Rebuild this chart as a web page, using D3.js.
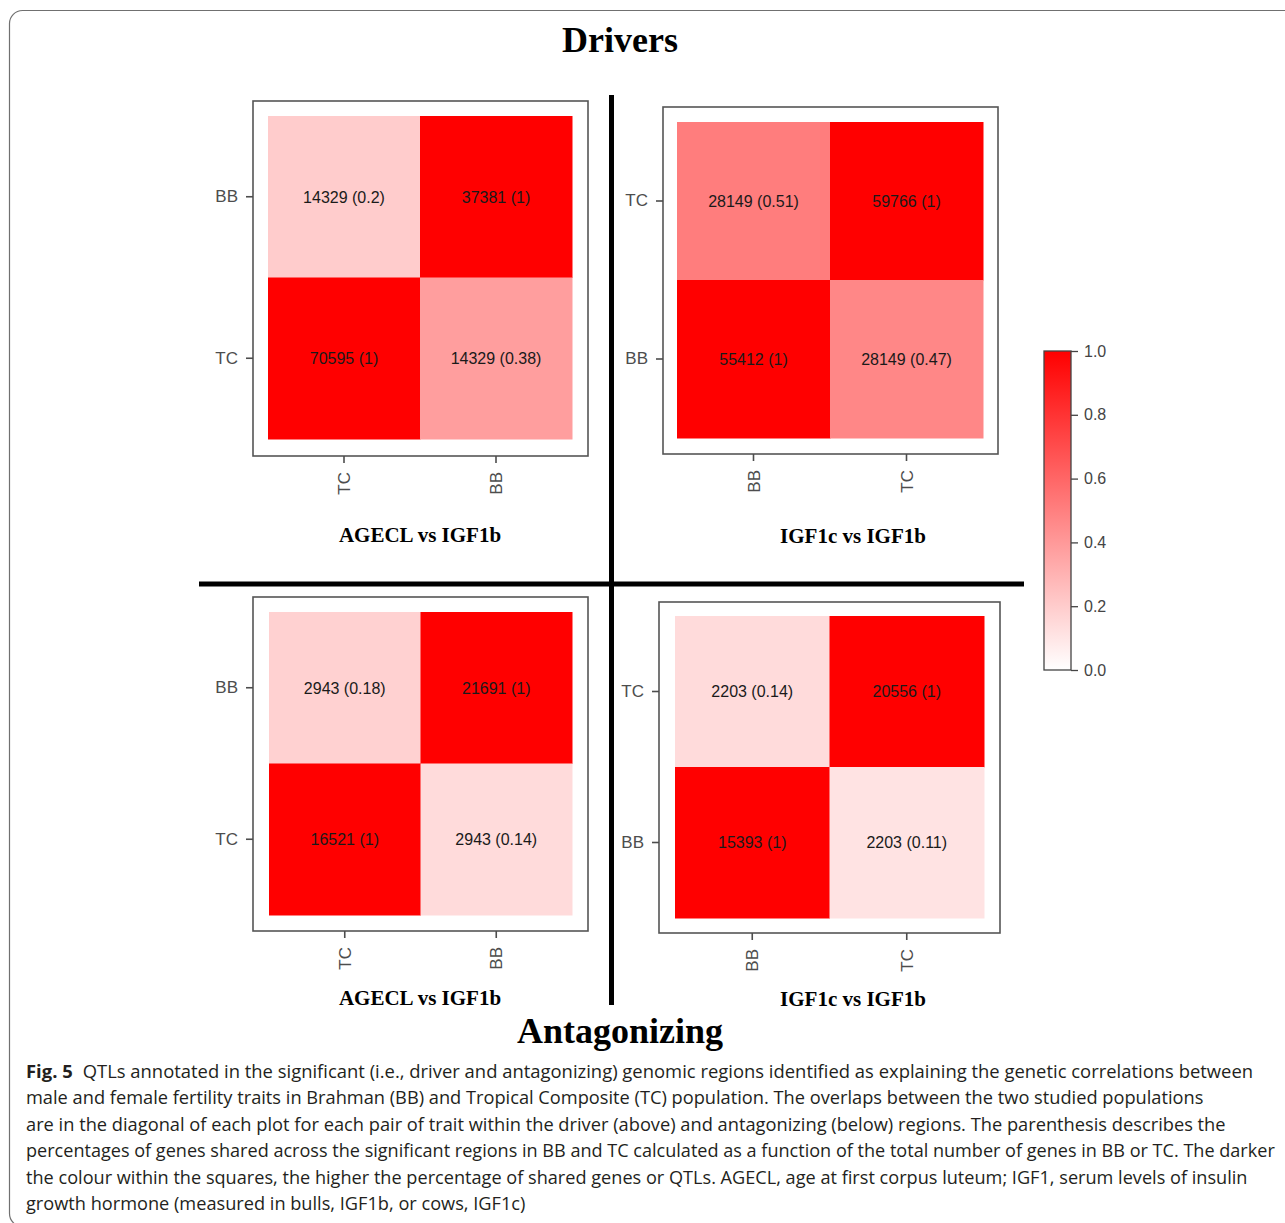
<!DOCTYPE html>
<html>
<head>
<meta charset="utf-8">
<script src="https://cdn.jsdelivr.net/npm/d3@7"></script>
<style>
  html, body { margin: 0; padding: 0; background: #fff; }
  svg { display: block; }
</style>
</head>
<body>
<svg id="fig" width="1285" height="1223"></svg>
<script>
// ---- data ----
const sectionTitles = ["Drivers", "Antagonizing"];
const panelTitles = ["AGECL vs IGF1b", "IGF1c vs IGF1b", "AGECL vs IGF1b", "IGF1c vs IGF1b"];
// column categories (left to right) and row categories (top to bottom)
const xCategories = [["TC", "BB"], ["BB", "TC"], ["TC", "BB"], ["BB", "TC"]];
const yCategories = [["BB", "TC"], ["TC", "BB"], ["BB", "TC"], ["TC", "BB"]];
// counts of shared QTLs, row-major (top row first)
const counts = [
  [[14329, 37381], [70595, 14329]],
  [[28149, 59766], [55412, 28149]],
  [[2943, 21691], [16521, 2943]],
  [[2203, 20556], [15393, 2203]]
];
// proportion shared
const shares = [
  [[0.2, 1], [1, 0.38]],
  [[0.51, 1], [1, 0.47]],
  [[0.18, 1], [1, 0.14]],
  [[0.14, 1], [1, 0.11]]
];
const legendTicks = [0, 0.2, 0.4, 0.6, 0.8, 1.0];
const captionLines = [
  "QTLs annotated in the significant (i.e., driver and antagonizing) genomic regions identified as explaining the genetic correlations between",
  "male and female fertility traits in Brahman (BB) and Tropical Composite (TC) population. The overlaps between the two studied populations",
  "are in the diagonal of each plot for each pair of trait within the driver (above) and antagonizing (below) regions. The parenthesis describes the",
  "percentages of genes shared across the significant regions in BB and TC calculated as a function of the total number of genes in BB or TC. The darker",
  "the colour within the squares, the higher the percentage of shared genes or QTLs. AGECL, age at first corpus luteum; IGF1, serum levels of insulin",
  "growth hormone (measured in bulls, IGF1b, or cows, IGF1c)"
];

// ---- layout ----
const panelLayout = [
  { frame: [253, 101, 588, 456], cells: [268, 116, 572, 439], titleX: 420, titleY: 542 },
  { frame: [663, 107, 998, 454], cells: [677, 122, 983, 438], titleX: 853, titleY: 543 },
  { frame: [253, 597, 588, 931], cells: [269, 612, 572, 915], titleX: 420, titleY: 1005 },
  { frame: [659, 602, 1000, 933], cells: [675, 616, 984, 918], titleX: 853, titleY: 1006 }
];
const captionEnds = [1254, 1204, 1226, 1276, 1248, 526];

const svg = d3.select("#fig");
const color = d3.scaleLinear().domain([0, 1]).range(["#ffffff", "#ff0000"]);

// outer rounded figure border
svg.append("rect")
  .attr("x", 9.5).attr("y", 10.5).attr("width", 1320).attr("height", 1216)
  .attr("rx", 13).attr("ry", 13)
  .attr("fill", "none").attr("stroke", "#707070").attr("stroke-width", 1.2);

// section titles
const serif = "'Liberation Serif', 'Times New Roman', serif";
svg.append("text").attr("x", 620).attr("y", 52)
  .attr("text-anchor", "middle").attr("font-family", serif)
  .attr("font-weight", "bold").attr("font-size", 36).attr("fill", "#000")
  .text(sectionTitles[0]);
svg.append("text").attr("x", 620).attr("y", 1043)
  .attr("text-anchor", "middle").attr("font-family", serif)
  .attr("font-weight", "bold").attr("font-size", 36).attr("fill", "#000")
  .text(sectionTitles[1]);

// quadrant separators
svg.append("line").attr("x1", 611.5).attr("x2", 611.5).attr("y1", 95).attr("y2", 1005)
  .attr("stroke", "#000").attr("stroke-width", 5);
svg.append("line").attr("x1", 199).attr("x2", 1024).attr("y1", 584).attr("y2", 584)
  .attr("stroke", "#000").attr("stroke-width", 5);

const sans = "'Liberation Sans', Arial, sans-serif";

panelLayout.forEach((L, p) => {
  const [fx0, fy0, fx1, fy1] = L.frame;
  const [cx0, cy0, cx1, cy1] = L.cells;
  const x = d3.scaleBand().domain(xCategories[p]).range([cx0, cx1]);
  const y = d3.scaleBand().domain(yCategories[p]).range([cy0, cy1]);
  const g = svg.append("g");

  const cells = [];
  yCategories[p].forEach((rc, i) => xCategories[p].forEach((cc, j) => {
    cells.push({ row: rc, col: cc, n: counts[p][i][j], v: shares[p][i][j] });
  }));

  g.selectAll("rect.cell").data(cells).join("rect")
    .attr("class", "cell")
    .attr("x", d => x(d.col)).attr("y", d => y(d.row))
    .attr("width", x.bandwidth() + 0.5).attr("height", y.bandwidth() + 0.5)
    .attr("fill", d => color(d.v));

  g.selectAll("text.lab").data(cells).join("text")
    .attr("class", "lab")
    .attr("x", d => x(d.col) + x.bandwidth() / 2)
    .attr("y", d => y(d.row) + y.bandwidth() / 2)
    .attr("dy", "0.36em")
    .attr("text-anchor", "middle")
    .attr("font-family", sans).attr("font-size", 16).attr("fill", "#1a1a1a")
    .text(d => `${d.n} (${d.v})`);

  // panel frame
  g.append("rect")
    .attr("x", fx0).attr("y", fy0).attr("width", fx1 - fx0).attr("height", fy1 - fy0)
    .attr("fill", "none").attr("stroke", "#555").attr("stroke-width", 1.6);

  // left axis
  const ya = g.append("g").attr("transform", `translate(${fx0},0)`)
    .call(d3.axisLeft(y).tickSize(7).tickPadding(8));
  ya.select(".domain").remove();
  ya.selectAll("line").attr("stroke", "#4d4d4d").attr("stroke-width", 1.6);
  ya.selectAll("text").attr("font-family", sans).attr("font-size", 17).attr("fill", "#4d4d4d");

  // bottom axis, labels rotated
  const xa = g.append("g").attr("transform", `translate(0,${fy1})`)
    .call(d3.axisBottom(x).tickSize(7).tickPadding(8));
  xa.select(".domain").remove();
  xa.selectAll("line").attr("stroke", "#4d4d4d").attr("stroke-width", 1.6);
  xa.selectAll("text")
    .attr("font-family", sans).attr("font-size", 17).attr("fill", "#4d4d4d")
    .attr("transform", "rotate(-90)")
    .attr("x", -16).attr("y", 0).attr("dy", "0.36em")
    .attr("text-anchor", "end");

  // panel title
  svg.append("text").attr("x", L.titleX).attr("y", L.titleY)
    .attr("text-anchor", "middle").attr("font-family", serif)
    .attr("font-weight", "bold").attr("font-size", 21).attr("fill", "#000")
    .text(panelTitles[p]);
});

// colour legend
const defs = svg.append("defs");
const grad = defs.append("linearGradient").attr("id", "legendGrad")
  .attr("x1", 0).attr("y1", 1).attr("x2", 0).attr("y2", 0);
grad.append("stop").attr("offset", "0%").attr("stop-color", color(0));
grad.append("stop").attr("offset", "100%").attr("stop-color", color(1));

const lx0 = 1044, lx1 = 1071, ly0 = 351, ly1 = 670;
const ls = d3.scaleLinear().domain([0, 1]).range([ly1, ly0]);
svg.append("rect").attr("x", lx0).attr("y", ly0).attr("width", lx1 - lx0).attr("height", ly1 - ly0)
  .attr("fill", "url(#legendGrad)").attr("stroke", "#444").attr("stroke-width", 1.3);
const la = svg.append("g").attr("transform", `translate(${lx1},0)`)
  .call(d3.axisRight(ls).tickValues(legendTicks).tickFormat(d3.format(".1f")).tickSize(7).tickPadding(6));
la.select(".domain").remove();
la.selectAll("line").attr("stroke", "#444").attr("stroke-width", 1.3);
la.selectAll("text").attr("font-family", sans).attr("font-size", 16).attr("fill", "#444");

// caption: each line is horizontally scaled to its set width
const capFont = "'Open Sans', 'Noto Sans', sans-serif";
const labelGap = 10;
captionLines.forEach((line, i) => {
  const t = svg.append("text")
    .attr("x", 0).attr("y", 0)
    .attr("font-family", capFont).attr("font-size", 18.5).attr("fill", "#231f20");
  if (i === 0) {
    t.append("tspan").attr("font-weight", "bold").text("Fig. 5");
    t.append("tspan").attr("dx", labelGap).text(line);
  } else {
    t.text(line);
  }
  const natural = t.node().getBBox().width;
  const sx = (captionEnds[i] - 26) / natural;
  t.attr("transform", `translate(26,${1078 + i * 26.4}) scale(${sx},1)`);
});
</script>
</body>
</html>
